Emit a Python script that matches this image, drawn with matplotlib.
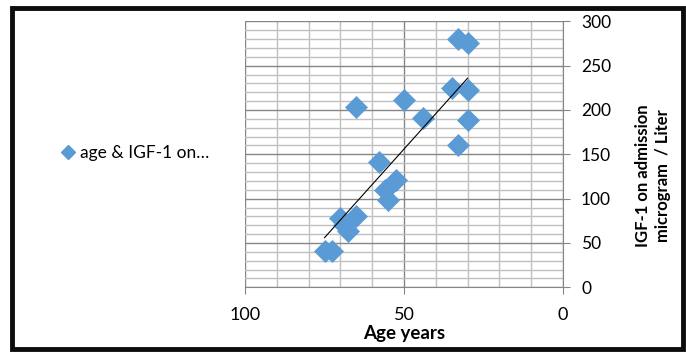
import numpy as np
import matplotlib
matplotlib.use('Agg')
from matplotlib import pyplot as plt
from matplotlib.lines import Line2D
from matplotlib.patches import Rectangle
import matplotlib.ticker as ticker

plt.rcParams['font.family'] = ['Lato', 'DejaVu Sans']

# age (years) and IGF-1 on admission (microgram / Liter)
age = [33, 30, 35, 30, 50, 65, 44, 30, 33, 58, 52.5, 56, 55, 70, 65, 67.5, 69, 75, 72.5]
igf = [280, 275, 225, 222, 211, 203, 191, 189, 160, 141, 121, 110, 99, 78, 80, 63, 70, 41, 41]
series_label = 'age & IGF-1 on…'
x_label = 'Age years'
y_label = 'IGF-1 on admission\nmicrogram  / Liter'

blue = '#5B9BD5'

fig = plt.figure(figsize=(6.86, 3.59), dpi=100)
ax = fig.add_axes([245 / 686, 1 - 287.3 / 359, 318 / 686, 266 / 359])

# grid
ax.set_xlim(100, 0)
ax.set_ylim(0, 300)
ax.xaxis.set_major_locator(ticker.MultipleLocator(50))
ax.xaxis.set_minor_locator(ticker.MultipleLocator(10))
ax.yaxis.set_major_locator(ticker.MultipleLocator(50))
ax.yaxis.set_minor_locator(ticker.MultipleLocator(10))
ax.grid(True, which='minor', color='#BFBFBF', lw=1.0)
ax.grid(True, which='major', color='#868686', lw=1.0)
ax.set_axisbelow(True)

# points
ax.plot(age, igf, 'D', ms=11, color=blue, mec=blue, mew=0.5, zorder=3)

# linear trendline
k, b = np.polyfit(age, igf, 1)
xs = np.array([min(age), max(age)])
ax.plot(xs, k * xs + b, color='black', lw=0.8, zorder=4)

# axes styling
ax.yaxis.tick_right()
for s in ['top', 'left']:
    ax.spines[s].set_visible(False)
for s in ['bottom', 'right']:
    ax.spines[s].set_color('#868686')
ax.tick_params(which='major', length=5, color='#868686', labelsize=12.5, pad=8)
ax.tick_params(axis='x', labelsize=13, pad=9)
ax.tick_params(which='minor', length=0)

fig.text(404 / 686, 1 - 333 / 359, x_label, ha='center', va='center',
         fontsize=13.5, fontweight='bold')
fig.text(653 / 686, 1 - 176 / 359, y_label, ha='center', va='center',
         rotation=90, fontsize=12, fontweight='bold', linespacing=1.25)

# legend
h = Line2D([], [], marker='D', ls='none', ms=7, color=blue)
fig.legend(handles=[h], labels=[series_label], loc='center left',
           bbox_to_anchor=(42 / 686, 1 - 153 / 359), frameon=False,
           fontsize=12.5, handletextpad=0.1, handlelength=1.2)

# outer frame
fig.patches.append(Rectangle((12 / 686, 10 / 359), 671 / 686, 341.5 / 359,
                             transform=fig.transFigure, fill=False,
                             ec='#0D0D0D', lw=3.5))

plt.savefig('out.png', dpi=100)
plt.close()
